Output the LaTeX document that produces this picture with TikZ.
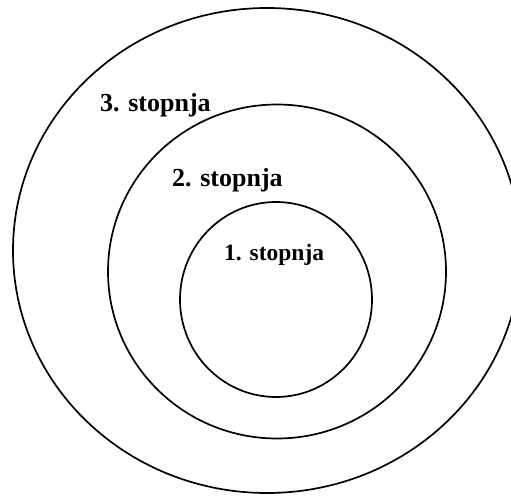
\documentclass[tikz,border=0pt]{standalone}
\usepackage{fontspec}
\setmainfont{Liberation Serif}
\usepackage{xcolor}
\usepackage{tikz}
\definecolor{figline}{RGB}{0,0,0}
\tikzset{
  ring/.style ={draw=figline, line width=1.7pt},
  lab/.style  ={font=\fontsize{26}{30}\selectfont\bfseries, inner sep=0pt, anchor=base west},
  labs/.style ={font=\fontsize{23.5}{28}\selectfont\bfseries, inner sep=0pt, anchor=base west},
}
\begin{document}
\begin{tikzpicture}[x=1pt,y=1pt]
  \useasboundingbox (0,0) rectangle (511,496);
  \clip (0,0) rectangle (511,496);
  % rings
  \draw[ring] (267,245.5) ellipse [x radius=254, y radius=242.5];
  \draw[ring] (277,224.5) ellipse [x radius=169, y radius=167];
  \draw[ring] (276,196.5) ellipse [x radius=96, y radius=97.5];
  % labels
  \node[lab]  (st3) at (100,384) {3. stopnja};
  \node[lab]  (st2) at (172,309) {2. stopnja};
  \node[labs] (st1) at (224,236) {1. stopnja};
\end{tikzpicture}
\end{document}
